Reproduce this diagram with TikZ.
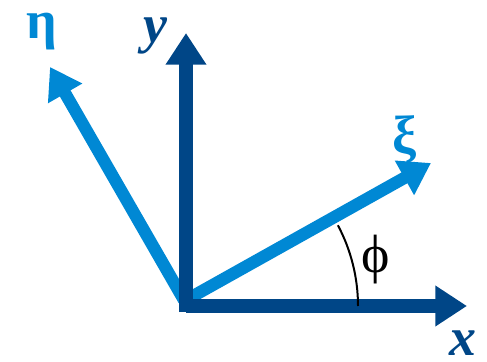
\documentclass[tikz,border=0pt]{standalone}
\usepackage{fontspec}
\setmainfont{Liberation Serif}
\usetikzlibrary{arrows.meta,positioning,calc}
\definecolor{darkblue}{RGB}{0,70,135}
\definecolor{lightblue}{RGB}{0,136,212}

\begin{document}
\begin{tikzpicture}[
    x=0.03cm, y=0.03cm,
    axis/.style={line width=12pt, darkblue, -{Triangle[length=27pt, width=33pt]}},
    rotaxis/.style={line width=10.5pt, lightblue, -{Triangle[length=26pt, width=32pt]}},
    axislabel/.style={inner sep=0pt, font=\fontsize{46}{46}\selectfont\bfseries\itshape, text=darkblue},
    rotlabel/.style={inner sep=0pt, font=\fontsize{46}{46}\selectfont\bfseries, text=lightblue}
]
    \useasboundingbox (0,0) rectangle (487,361);
    \coordinate (O) at (186,55);
    \coordinate (ybot) at (186,49);
    \coordinate (xtip) at (467,55);
    \coordinate (ytip) at (186,328);
    \coordinate (xistart) at (186,61);
    \coordinate (xitip) at (431,198);
    \coordinate (etastart) at (184,61);
    \coordinate (etatip) at (50,294);

    \draw[rotaxis] (xistart) -- (xitip);
    \draw[rotaxis] (etastart) -- (etatip);
    \draw[axis] (ybot) -- (ytip);
    \draw[axis] (O) -- (xtip);

    \draw[line width=1.7pt] ($(O)+(172,0)$) arc (0:28:172);

    \node[axislabel] (xlab) at (463,18) {x};
    \node[axislabel] (ylab) at (155,325) {y};
    \node[rotlabel] (xilab) at (405,221) {ξ};
    \node[rotlabel] (etalab) at (42,329) {η};
    \node[inner sep=0pt, font=\fontsize{46}{46}\selectfont] (philab) at (376,101) {ϕ};
\end{tikzpicture}
\end{document}
